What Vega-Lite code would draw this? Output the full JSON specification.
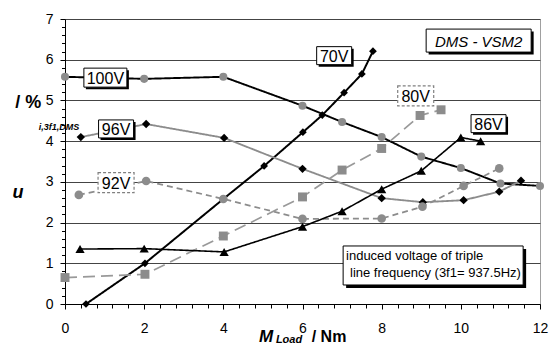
{
  "$schema": "https://vega.github.io/schema/vega-lite/v6.json",
  "width": 475,
  "height": 285,
  "autosize": {"type": "none"},
  "padding": {"left": 65, "top": 19, "right": 15, "bottom": 43},
  "background": "white",
  "config": {
    "view": {"stroke": "#a0a0a0", "strokeWidth": 1},
    "axis": {"labelFont": "Liberation Sans", "labelFontSize": 14, "labelColor": "black", "tickColor": "black", "domainColor": "black", "domainWidth": 1, "tickWidth": 1}
  },
  "datasets": {
    "pts": [
      {"s": "70V", "x": 0.53, "y": 0},
      {"s": "70V", "x": 2.02, "y": 1.0},
      {"s": "70V", "x": 4.0, "y": 2.58},
      {"s": "70V", "x": 5.03, "y": 3.39},
      {"s": "70V", "x": 6.01, "y": 4.22},
      {"s": "70V", "x": 6.5, "y": 4.64},
      {"s": "70V", "x": 7.05, "y": 5.19},
      {"s": "70V", "x": 7.5, "y": 5.65},
      {"s": "70V", "x": 7.78, "y": 6.21},
      {"s": "100V", "x": 0, "y": 5.58},
      {"s": "100V", "x": 2, "y": 5.53},
      {"s": "100V", "x": 4, "y": 5.58},
      {"s": "100V", "x": 6, "y": 4.87},
      {"s": "100V", "x": 7, "y": 4.47},
      {"s": "100V", "x": 8, "y": 4.1},
      {"s": "100V", "x": 9, "y": 3.62},
      {"s": "100V", "x": 10, "y": 3.34},
      {"s": "100V", "x": 11, "y": 2.96},
      {"s": "100V", "x": 12, "y": 2.9},
      {"s": "96V", "x": 0.4, "y": 4.1},
      {"s": "96V", "x": 2.05, "y": 4.42},
      {"s": "96V", "x": 4.02, "y": 4.08},
      {"s": "96V", "x": 6, "y": 3.32},
      {"s": "96V", "x": 8, "y": 2.6},
      {"s": "96V", "x": 9.04, "y": 2.5},
      {"s": "96V", "x": 10.07, "y": 2.55},
      {"s": "96V", "x": 10.97, "y": 2.76},
      {"s": "96V", "x": 11.52, "y": 3.03},
      {"s": "92V", "x": 0.35, "y": 2.68},
      {"s": "92V", "x": 2.05, "y": 3.02},
      {"s": "92V", "x": 4, "y": 2.58},
      {"s": "92V", "x": 6, "y": 2.09},
      {"s": "92V", "x": 8, "y": 2.1},
      {"s": "92V", "x": 9.03, "y": 2.39},
      {"s": "92V", "x": 10.07, "y": 2.9},
      {"s": "92V", "x": 10.97, "y": 3.33},
      {"s": "80V", "x": 0, "y": 0.65},
      {"s": "80V", "x": 2.02, "y": 0.73},
      {"s": "80V", "x": 4, "y": 1.67},
      {"s": "80V", "x": 6, "y": 2.63},
      {"s": "80V", "x": 7, "y": 3.29},
      {"s": "80V", "x": 8, "y": 3.82},
      {"s": "80V", "x": 8.97, "y": 4.63},
      {"s": "80V", "x": 9.5, "y": 4.77},
      {"s": "86V", "x": 0.38, "y": 1.35},
      {"s": "86V", "x": 2, "y": 1.36},
      {"s": "86V", "x": 4.02, "y": 1.28},
      {"s": "86V", "x": 6, "y": 1.9},
      {"s": "86V", "x": 7, "y": 2.28},
      {"s": "86V", "x": 8, "y": 2.82},
      {"s": "86V", "x": 9, "y": 3.27},
      {"s": "86V", "x": 10, "y": 4.09},
      {"s": "86V", "x": 10.5, "y": 4.0}
    ],
    "labels": [
      {"s": "100V", "x": 1.02, "y": 5.56},
      {"s": "96V", "x": 1.29, "y": 4.3},
      {"s": "92V", "x": 1.29, "y": 2.98},
      {"s": "70V", "x": 6.8, "y": 6.1},
      {"s": "80V", "x": 8.86, "y": 5.11},
      {"s": "86V", "x": 10.7, "y": 4.43}
    ]
  },
  "encoding": {
    "x": {
      "field": "x", "type": "quantitative",
      "scale": {"domain": [0, 12], "nice": false, "zero": false},
      "axis": {
        "title": null, "grid": false,
        "values": [0, 0.4, 0.8, 1.2, 1.6, 2, 2.4, 2.8, 3.2, 3.6, 4, 4.4, 4.8, 5.2, 5.6, 6, 6.4, 6.8, 7.2, 7.6, 8, 8.4, 8.8, 9.2, 9.6, 10, 10.4, 10.8, 11.2, 11.6, 12],
        "labelExpr": "abs(datum.value/2 - round(datum.value/2)) < 0.01 ? '' + round(datum.value) : ''",
        "tickSize": {"condition": {"test": "abs(datum.value/2 - round(datum.value/2)) < 0.01", "value": 5}, "value": 4},
        "labelPadding": 12, "labelOverlap": false, "labelFlush": false, "labelBound": false
      }
    },
    "y": {
      "field": "y", "type": "quantitative",
      "scale": {"domain": [0, 7], "nice": false, "zero": false},
      "axis": {
        "title": null, "grid": true, "gridColor": "#444444", "gridWidth": 1,
        "gridOpacity": {"condition": {"test": "abs(datum.value - round(datum.value)) < 0.01", "value": 1}, "value": 0},
        "values": [0, 0.2, 0.4, 0.6, 0.8, 1, 1.2, 1.4, 1.6, 1.8, 2, 2.2, 2.4, 2.6, 2.8, 3, 3.2, 3.4, 3.6, 3.8, 4, 4.2, 4.4, 4.6, 4.8, 5, 5.2, 5.4, 5.6, 5.8, 6, 6.2, 6.4, 6.6, 6.8, 7],
        "labelExpr": "abs(datum.value - round(datum.value)) < 0.01 ? '' + round(datum.value) : ''",
        "tickSize": {"condition": {"test": "abs(datum.value - round(datum.value)) < 0.01", "value": 5}, "value": 3.5},
        "labelPadding": 7, "labelOverlap": false, "labelBound": false
      }
    }
  },
  "layer": [
    {
      "data": {"name": "pts"},
      "mark": {"type": "line"},
      "encoding": {
        "detail": {"field": "s"},
        "stroke": {"field": "s", "type": "nominal", "legend": null,
          "scale": {"domain": ["70V", "100V", "96V", "92V", "80V", "86V"], "range": ["black", "black", "#8c8c8c", "#8c8c8c", "#999999", "black"]}},
        "strokeWidth": {"field": "s", "type": "nominal", "legend": null,
          "scale": {"domain": ["70V", "100V", "96V", "92V", "80V", "86V"], "range": [2, 1.6, 1.3, 1.3, 2.5, 2]}},
        "strokeDash": {"field": "s", "type": "nominal", "legend": null,
          "scale": {"domain": ["70V", "100V", "96V", "92V", "80V", "86V"], "range": [[1, 0], [1, 0], [1, 0], [6, 4], [12, 6], [1, 0]]}}
      }
    },
    {
      "data": {"name": "pts"},
      "mark": {"type": "point", "filled": true, "opacity": 1, "strokeWidth": 0},
      "encoding": {
        "shape": {"field": "s", "type": "nominal", "legend": null,
          "scale": {"domain": ["70V", "100V", "96V", "92V", "80V", "86V"], "range": ["diamond", "circle", "diamond", "circle", "square", "triangle-up"]}},
        "fill": {"field": "s", "type": "nominal", "legend": null,
          "scale": {"domain": ["70V", "100V", "96V", "92V", "80V", "86V"], "range": ["black", "#8c8c8c", "black", "#8c8c8c", "#8c8c8c", "black"]}},
        "size": {"field": "s", "type": "nominal", "legend": null,
          "scale": {"domain": ["70V", "100V", "96V", "92V", "80V", "86V"], "range": [60, 85, 55, 36, 75, 90]}}
      }
    },
    {
      "data": {"name": "labels"},
      "transform": [{"filter": "datum.s != '80V' && datum.s != '92V' && datum.s != '100V'"}],
      "mark": {"type": "point", "filled": true, "opacity": 1, "size": 400, "fill": "black", "strokeWidth": 0, "shape": "M-1.55,-0.7L1.95,-0.7L1.95,1.1L-1.55,1.1Z"}
    },
    {
      "data": {"name": "labels"},
      "transform": [{"filter": "datum.s != '80V' && datum.s != '92V' && datum.s != '100V'"}],
      "mark": {"type": "point", "filled": true, "opacity": 1, "size": 400, "fill": "white", "stroke": "black", "strokeWidth": 1, "shape": "M-1.75,-0.9L1.75,-0.9L1.75,0.9L-1.75,0.9Z"}
    },
    {
      "data": {"name": "labels"},
      "transform": [{"filter": "datum.s == '100V'"}],
      "mark": {"type": "point", "filled": true, "opacity": 1, "size": 400, "fill": "black", "strokeWidth": 0, "shape": "M-1.95,-0.75L2.35,-0.75L2.35,1.15L-1.95,1.15Z"}
    },
    {
      "data": {"name": "labels"},
      "transform": [{"filter": "datum.s == '100V'"}],
      "mark": {"type": "point", "filled": true, "opacity": 1, "size": 400, "fill": "white", "stroke": "black", "strokeWidth": 1, "shape": "M-2.15,-0.95L2.15,-0.95L2.15,0.95L-2.15,0.95Z"}
    },
    {
      "data": {"name": "labels"},
      "transform": [{"filter": "datum.s == '80V' || datum.s == '92V'"}],
      "mark": {"type": "point", "filled": true, "opacity": 1, "size": 400, "fill": "white", "stroke": "#808080", "strokeWidth": 1.2, "strokeDash": [3, 2], "shape": "M-1.8,-1L1.8,-1L1.8,1L-1.8,1Z"}
    },
    {
      "data": {"name": "labels"},
      "mark": {"type": "text", "font": "Liberation Sans", "fontSize": 16, "color": "black", "align": "center", "baseline": "middle", "dy": 1},
      "encoding": {"text": {"field": "s"}}
    },
    {
      "data": {"values": [{"x": 10.45, "y": 6.47, "t": "DMS - VSM2"}]},
      "mark": {"type": "point", "filled": true, "opacity": 1, "size": 400, "fill": "black", "strokeWidth": 0, "shape": "M-5,-0.9L5.5,-0.9L5.5,1.4L-5,1.4Z"}
    },
    {
      "data": {"values": [{"x": 10.45, "y": 6.47, "t": "DMS - VSM2"}]},
      "mark": {"type": "point", "filled": true, "opacity": 1, "size": 400, "fill": "white", "stroke": "black", "strokeWidth": 1, "shape": "M-5.25,-1.15L5.25,-1.15L5.25,1.15L-5.25,1.15Z"}
    },
    {
      "data": {"values": [{"x": 10.45, "y": 6.47, "t": "DMS - VSM2"}]},
      "mark": {"type": "text", "font": "Liberation Sans", "fontSize": 15, "fontStyle": "italic", "color": "black", "align": "center", "baseline": "middle", "dy": 1},
      "encoding": {"text": {"field": "t"}}
    },
    {
      "data": {"values": [{"x": 9.3, "y": 0.946}]},
      "mark": {"type": "point", "filled": true, "opacity": 1, "size": 400, "fill": "black", "strokeWidth": 0, "shape": "M-8.7,-1.65L9.3,-1.65L9.3,2.25L-8.7,2.25Z"}
    },
    {
      "data": {"values": [{"x": 9.3, "y": 0.946}]},
      "mark": {"type": "point", "filled": true, "opacity": 1, "size": 400, "fill": "white", "stroke": "black", "strokeWidth": 1, "shape": "M-9,-1.95L9,-1.95L9,1.95L-9,1.95Z"}
    },
    {
      "data": {"values": [{"x": 7.1, "y": 1.17, "t": "induced voltage of triple"}, {"x": 7.2, "y": 0.76, "t": "line frequency (3f1= 937.5Hz)"}]},
      "mark": {"type": "text", "font": "Liberation Sans", "fontSize": 13, "color": "black", "align": "left", "baseline": "middle"},
      "encoding": {"text": {"field": "t"}}
    },
    {
      "data": {"values": [{"x": -0.93, "y": 4.94, "t": "/ %"}]},
      "mark": {"type": "text", "font": "Liberation Sans", "fontSize": 18, "fontWeight": "bold", "color": "black", "align": "center", "baseline": "middle"},
      "encoding": {"text": {"field": "t"}}
    },
    {
      "data": {"values": [{"x": -0.15, "y": 4.35, "t": "i,3f1,DMS"}]},
      "mark": {"type": "text", "font": "Liberation Sans", "fontSize": 9, "fontWeight": "bold", "fontStyle": "italic", "color": "black", "align": "center", "baseline": "middle"},
      "encoding": {"text": {"field": "t"}}
    },
    {
      "data": {"values": [{"x": -1.19, "y": 2.73, "t": "u"}]},
      "mark": {"type": "text", "font": "Liberation Sans", "fontSize": 18, "fontWeight": "bold", "fontStyle": "italic", "color": "black", "align": "center", "baseline": "middle"},
      "encoding": {"text": {"field": "t"}}
    },
    {
      "data": {"values": [{"x": 5.08, "y": -0.82, "t": "M"}]},
      "mark": {"type": "text", "font": "Liberation Sans", "fontSize": 17, "fontWeight": "bold", "fontStyle": "italic", "color": "black", "align": "center", "baseline": "middle"},
      "encoding": {"text": {"field": "t"}}
    },
    {
      "data": {"values": [{"x": 5.66, "y": -0.89, "t": "Load"}]},
      "mark": {"type": "text", "font": "Liberation Sans", "fontSize": 11, "fontWeight": "bold", "fontStyle": "italic", "color": "black", "align": "center", "baseline": "middle"},
      "encoding": {"text": {"field": "t"}}
    },
    {
      "data": {"values": [{"x": 6.67, "y": -0.82, "t": "/ Nm"}]},
      "mark": {"type": "text", "font": "Liberation Sans", "fontSize": 16, "fontWeight": "bold", "color": "black", "align": "center", "baseline": "middle"},
      "encoding": {"text": {"field": "t"}}
    }
  ]
}
